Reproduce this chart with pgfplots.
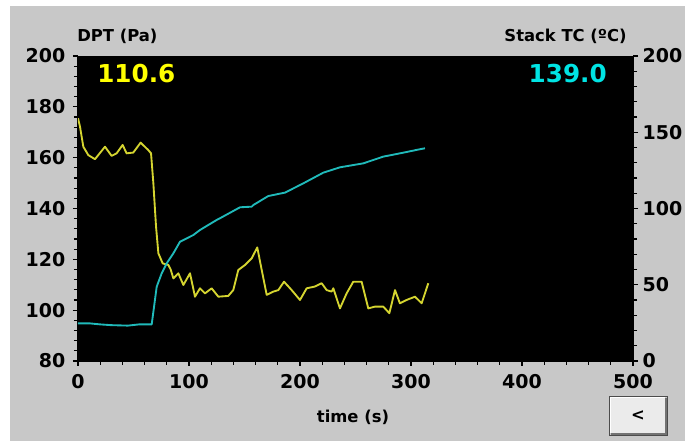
\documentclass[border=0pt]{standalone}
\usepackage{pgfplots}
\pgfplotsset{compat=1.18}
\usepackage{fontspec}
\setmainfont{DejaVu Sans}
\newfontfamily\dvb{DejaVu Sans}[BoldFont={* Bold}]
\newlength\px
\setlength\px{0.75pt}
\definecolor{panelgray}{RGB}{200,200,200}
\definecolor{dptline}{RGB}{212,212,48}
\definecolor{tcline}{RGB}{32,186,186}
\definecolor{dpttext}{RGB}{255,255,0}
\definecolor{tctext}{RGB}{0,228,228}
\newcommand\tickfont{\fontsize{14.25}{16}\selectfont\bfseries}
\newcommand\labfont{\fontsize{12.3}{14}\selectfont\bfseries}
\newcommand\bigfont{\fontsize{18.5}{20}\selectfont\bfseries}

\pgfplotsset{
  scopebase/.style={
    scale only axis, width=555\px, height=305\px,
    at={(0,0)}, anchor=south west,
    xmin=0, xmax=500,
    tick align=outside,
    major tick length=5\px, minor tick length=4\px,
    every tick/.style={black, line width=0.9pt},
    axis line style={black, line width=0.9pt},
    ticklabel style={font=\tickfont},
    /pgf/number format/assume math mode=true,
  }
}

\begin{document}
\begin{tikzpicture}
\path[use as bounding box] (-78\px,-80\px) rectangle (607\px,361\px);
\fill[white] (-78\px,-80\px) rectangle (607\px,361\px);
\fill[panelgray] (-68\px,-80\px) rectangle (607\px,355\px);

\begin{axis}[scopebase,
  axis background/.style={fill=black},
  axis x line*=bottom, axis y line*=left,
  ymin=80, ymax=200,
  xtick={0,100,...,500}, minor x tick num=4,
  ytick={80,100,...,200}, minor y tick num=4,
  xticklabel style={yshift=-4\px},
  yticklabel style={xshift=-3\px},
]
\addplot[dptline, line width=1.4pt, line join=round] coordinates {
(0,175.5)(1.8,172.2)(4.8,164.3)(9.3,161)(15.3,159.4)(24.3,164.3)(30.3,160.7)
(34.8,161.7)(40.2,165)(43.8,161.7)(49.8,162)(56.4,165.9)(63.3,163)(65.8,161.7)
(67.9,149.9)(70.3,132.9)(72.4,122.4)(76.3,118.4)(81.4,117.8)(83.5,116)
(85.9,112.5)(90.4,114.5)(94.9,109.9)(100.9,114.5)(105.4,105.3)(109.9,108.6)
(114.4,106.6)(120.4,108.6)(126.4,105.3)(135.4,105.6)(139.9,107.9)(144.4,115.8)
(150.5,117.8)(156.5,120.4)(161.5,124.7)(165.5,115.8)(170,106)(176,107.3)
(180.5,107.9)(185.6,111.2)(192.5,107.9)(200,104)(206,108.6)(213.5,109.3)
(219.5,110.6)(224,107.9)(228.5,107.3)(230,108.6)(236,100.7)(242,106.6)
(248,111.2)(255.5,111.2)(261.5,100.7)(267.6,101.4)(275,101.4)(280.5,98.8)
(285.6,107.9)(290,102.7)(296,104)(303.6,105.3)(309.6,102.7)(315.6,110.6)
};
\end{axis}

\begin{axis}[scopebase,
  axis x line=none, axis y line*=right,
  ymin=0, ymax=200,
  ytick={0,50,...,200}, minor y tick num=4,
]
\addplot[tcline, line width=1.4pt, line join=round] coordinates {
(0,24.7)(10,24.7)(20,24)(30,23.5)(45,23.2)(55,24)(66.4,24)(70.9,48.7)
(75.4,57.5)(79.9,64)(85.9,70.6)(91.9,78.2)(103.9,82.6)(109.9,85.9)(125,92.5)
(127.9,93.6)(146,100.8)(156.5,101.2)(158,102.3)(171.5,108.2)(186.5,110.4)
(203,116.5)(221,123.5)(236,127)(257,129.6)(275,134)(293,136.6)(305,138.4)
(312.6,139.5)
};
\end{axis}

\node[anchor=base west, inner sep=0, font=\labfont] at (-1\px,319\px) {DPT (Pa)};
\node[anchor=base east, inner sep=0, font=\labfont] at (549\px,319\px) {Stack TC (ºC)};
\node[anchor=base, inner sep=0, font=\labfont] at (275\px,-62\px) {time (s)};
\node[anchor=base west, inner sep=0, font=\bigfont, text=dpttext] at (19\px,278\px) {110.6};
\node[anchor=base east, inner sep=0, font=\bigfont, text=tctext] at (529\px,278\px) {139.0};

\fill[black!55] (533\px,-74\px) rectangle (589\px,-37\px);
\fill[white] (531\px,-72\px) rectangle (587\px,-35\px);
\fill[black!8] (533\px,-72\px) rectangle (587\px,-37\px);
\draw[black!70, line width=0.7pt] (531\px,-74\px) rectangle (589\px,-35\px);
\node[font=\labfont] at (560\px,-55\px) {<};
\end{tikzpicture}
\end{document}
